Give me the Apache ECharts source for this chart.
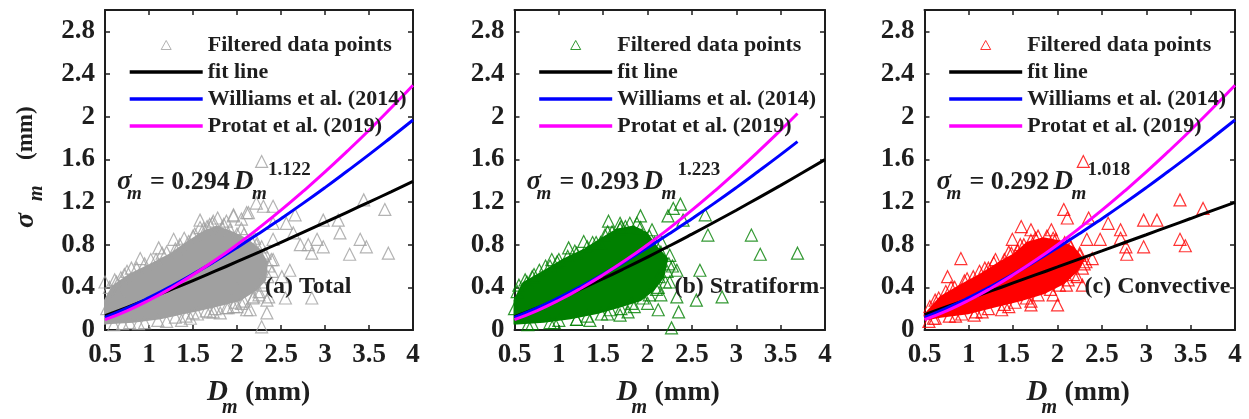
<!DOCTYPE html>
<html>
<head>
<meta charset="utf-8">
<script src="https://cdn.jsdelivr.net/npm/echarts@6/dist/echarts.min.js"></script>
<style>
  html, body { margin: 0; padding: 0; background: #ffffff; }
  #chart { width: 1249px; height: 419px; }
</style>
</head>
<body>
<div id="chart"></div>
<script>
// ---- Dm sample positions (mm) for the relation curves ----
const dmFull  = [0.5, 0.75, 1, 1.25, 1.5, 1.75, 2, 2.25, 2.5, 2.75, 3, 3.25, 3.5, 3.75, 4];
const dmStrat = [0.5, 0.75, 1, 1.25, 1.5, 1.75, 2, 2.25, 2.5, 2.75, 3, 3.25, 3.5, 3.69];

// ---- fitted sigma_m (mm) for each rain type ----
const fitTotal = [0.135, 0.213, 0.294, 0.378, 0.463, 0.551, 0.640, 0.730, 0.822, 0.915, 1.008, 1.103, 1.199, 1.295, 1.393];
const fitStrat = [0.126, 0.206, 0.293, 0.385, 0.481, 0.581, 0.684, 0.790, 0.899, 1.010, 1.123, 1.239, 1.356, 1.476, 1.597];
const fitConv  = [0.144, 0.218, 0.292, 0.366, 0.441, 0.516, 0.591, 0.667, 0.742, 0.818, 0.893, 0.969, 1.045, 1.122, 1.197];

// ---- published relations ----
const williamsFull  = [0.119, 0.205, 0.303, 0.410, 0.524, 0.645, 0.772, 0.905, 1.044, 1.187, 1.335, 1.488, 1.644, 1.805, 1.969];
const protatFull    = [0.097, 0.180, 0.279, 0.392, 0.517, 0.653, 0.800, 0.957, 1.123, 1.299, 1.482, 1.674, 1.873, 2.081, 2.295];
const williamsStrat = [0.119, 0.205, 0.303, 0.410, 0.524, 0.645, 0.772, 0.905, 1.044, 1.187, 1.335, 1.488, 1.644, 1.766];
const protatStrat   = [0.097, 0.180, 0.279, 0.392, 0.517, 0.653, 0.800, 0.957, 1.123, 1.299, 1.482, 1.674, 1.873, 2.030];

// ---- dense cores of the filtered data clouds [Dm, sigma_m] ----
const coreTotal = [[0.5,0.28],[0.59,0.41],[0.78,0.52],[1.01,0.61],[1.24,0.71],[1.43,0.82],[1.62,0.92],[1.77,0.97],[1.96,0.91],[2.11,0.85],[2.26,0.75],[2.34,0.63],[2.32,0.47],[2.22,0.38],[2.03,0.28],[1.81,0.235],[1.58,0.19],[1.39,0.157],[1.13,0.11],[0.82,0.078],[0.52,0.063],[0.5,0.06]];
const coreStrat = [[0.5,0.28],[0.6,0.44],[0.83,0.55],[1.05,0.66],[1.28,0.75],[1.47,0.85],[1.65,0.94],[1.84,0.97],[1.99,0.91],[2.1,0.78],[2.22,0.67],[2.18,0.5],[2.07,0.38],[1.92,0.28],[1.69,0.22],[1.43,0.16],[1.13,0.11],[0.83,0.078],[0.53,0.06],[0.5,0.06]];
const coreConv  = [[0.5,0.14],[0.68,0.31],[0.91,0.42],[1.13,0.52],[1.36,0.64],[1.51,0.71],[1.66,0.82],[1.84,0.86],[2.03,0.83],[2.18,0.77],[2.29,0.66],[2.21,0.55],[2.07,0.44],[1.84,0.345],[1.59,0.28],[1.29,0.22],[0.99,0.157],[0.68,0.125],[0.51,0.1]];

// ---- individual filtered points [Dm, sigma_m]: outliers and cloud rim ----
const ptsTotal = [[2.28,1.58],[2.28,0.03],[3.44,1.22],[3.68,1.13],[3.72,0.72],[3.40,0.85],[3.47,0.78],[3.28,0.71],[3.17,0.91],[3.15,1.03],[2.98,1.03],[2.98,0.78],[2.85,0.72],[2.81,0.80],[2.91,0.85],[2.72,0.80],[2.64,0.91],[2.66,1.08],[2.56,1.00],[2.60,0.56],[2.55,0.30],[2.85,0.30],[2.41,0.66],[2.34,0.28],[2.34,0.16],[2.19,0.31],[2.11,0.19],[2.00,0.22],[2.41,1.16],[2.22,1.19],[2.13,1.10],[1.96,1.07],[1.58,1.03],[1.73,1.02],[1.28,0.85],[1.11,0.77],[0.90,0.67],[1.45,0.83],[0.63,0.45],[1.37,0.09],[1.69,0.17],[1.81,0.16],[2.00,0.38],[2.41,0.85],[2.51,0.50],[0.61,0.47],[1.69,0.99],[1.96,1.08],[2.11,1.10],[2.30,1.16],[2.41,1.00],[2.39,0.66],[2.40,0.55],[2.36,0.31],[2.15,0.19],[1.96,0.22],[1.73,0.17],[1.47,0.11],[1.20,0.08],[0.50,0.45],[0.65,0.37],[0.52,0.20],[0.72,0.52],[0.80,0.58],[1.02,0.66],[1.15,0.72],[1.35,0.80],[1.52,0.90],[1.62,0.95],[1.85,0.99],[2.05,0.95],[2.20,0.86],[2.28,0.78],[2.32,0.72],[1.78,1.05],[1.88,1.02],[2.05,1.04],[0.70,0.06],[0.95,0.07],[1.55,0.15],[1.90,0.21],[2.08,0.27],[2.25,0.36],[2.28,0.45],
  [0.55,0.40],[0.68,0.49],[0.75,0.55],[0.86,0.58],[0.95,0.62],[1.08,0.66],[1.20,0.73],[1.30,0.76],[1.40,0.86],[1.50,0.88],[1.58,0.96],[1.66,0.97],[1.72,1.00],[1.83,0.96],[1.92,0.94],[2.00,0.90],[2.08,0.90],[2.16,0.84],[2.22,0.80],[2.30,0.70],[2.36,0.60],[2.35,0.50],[2.30,0.42],[2.25,0.33],[2.18,0.30],[2.05,0.25],[1.98,0.26],[1.88,0.21],[1.75,0.20],[1.65,0.18],[1.50,0.16],[1.42,0.13],[1.30,0.12],[1.10,0.09],[0.88,0.06],[0.60,0.05],[0.78,0.07]];
const ptsStrat = [[2.27,0.02],[3.17,0.89],[3.27,0.71],[3.69,0.72],[2.65,1.08],[2.68,0.89],[2.59,0.56],[2.55,0.28],[2.84,0.31],[2.33,0.31],[2.35,0.17],[2.12,0.19],[2.33,0.56],[2.29,1.14],[2.37,1.18],[2.40,1.03],[2.23,1.07],[1.92,1.07],[1.56,1.02],[1.69,1.00],[1.69,0.95],[1.28,0.83],[1.47,0.82],[1.11,0.77],[0.92,0.66],[0.64,0.45],[0.50,0.20],[1.35,0.09],[1.69,0.14],[1.78,0.17],[2.10,0.38],[2.13,0.50],[0.55,0.42],[0.72,0.52],[0.85,0.60],[1.00,0.66],[1.18,0.74],[1.38,0.82],[1.55,0.92],[1.75,0.97],[1.88,1.00],[2.05,0.94],[2.16,0.82],[2.25,0.70],[2.28,0.60],[2.25,0.45],[2.15,0.33],[2.00,0.25],[1.85,0.22],[1.55,0.15],[1.20,0.10],[0.95,0.07],[0.70,0.06],
  [0.53,0.36],[0.62,0.47],[0.70,0.50],[0.78,0.56],[0.90,0.60],[0.98,0.64],[1.10,0.69],[1.20,0.72],[1.32,0.78],[1.42,0.82],[1.52,0.89],[1.60,0.92],[1.70,0.97],[1.80,1.00],[1.92,0.96],[2.02,0.88],[2.08,0.82],[2.15,0.73],[2.24,0.62],[2.22,0.55],[2.20,0.45],[2.12,0.40],[2.02,0.33],[1.95,0.30],[1.82,0.25],[1.70,0.20],[1.58,0.19],[1.48,0.15],[1.32,0.13],[1.20,0.10],[1.00,0.09],[0.90,0.07],[0.65,0.05]];
const ptsConv  = [[2.29,1.58],[3.38,1.22],[3.64,1.14],[3.38,0.85],[3.44,0.79],[2.97,1.03],[3.12,1.03],[2.97,0.78],[2.71,0.94],[2.77,0.78],[2.78,0.71],[2.71,0.86],[2.57,1.00],[2.48,0.85],[2.33,0.85],[2.39,0.67],[2.35,1.05],[2.07,1.13],[2.11,1.05],[1.93,0.94],[1.70,0.94],[1.59,0.97],[1.49,0.85],[0.91,0.67],[0.76,0.50],[0.68,0.25],[0.60,0.11],[1.06,0.14],[1.37,0.19],[1.70,0.235],[2.00,0.235],[2.28,0.42],[1.90,0.52],[0.62,0.28],[0.80,0.40],[0.98,0.48],[1.18,0.58],[1.30,0.66],[1.45,0.73],[1.58,0.80],[1.75,0.86],[1.95,0.86],[2.12,0.82],[2.25,0.72],[2.30,0.62],[2.22,0.50],[2.10,0.42],[1.95,0.33],[1.70,0.27],[1.45,0.22],[1.15,0.17],[0.85,0.13],[0.55,0.08],
  [0.56,0.22],[0.66,0.30],[0.74,0.36],[0.84,0.40],[0.95,0.46],[1.05,0.50],[1.12,0.55],[1.22,0.58],[1.28,0.63],[1.40,0.66],[1.48,0.72],[1.55,0.74],[1.62,0.80],[1.70,0.84],[1.78,0.88],[1.88,0.88],[1.98,0.85],[2.08,0.82],[2.15,0.78],[2.25,0.70],[2.32,0.64],[2.28,0.58],[2.18,0.52],[2.12,0.47],[2.02,0.42],[1.92,0.38],[1.78,0.33],[1.65,0.30],[1.52,0.26],[1.40,0.24],[1.22,0.20],[1.08,0.17],[0.92,0.15],[0.78,0.13],[0.62,0.11]];

// ---- texts ----
const legendNames = ['Filtered data points', 'fit line', 'Williams et al. (2014)', 'Protat et al. (2019)'];
const panelTags = ['(a) Total', '(b) Stratiform', '(c) Convective'];
const fitCoefs = ['0.294', '0.293', '0.292'];
const fitExpos = ['1.122', '1.223', '1.018'];

const FONT = '"Liberation Serif", "Times New Roman", serif';
const INK = '#1e1e1e';

const panels = [
  { left: 105,   width: 308,   color: '#a0a0a0', core: coreTotal, pts: ptsTotal, fit: fitTotal, dmRef: dmFull,  will: williamsFull,  prot: protatFull },
  { left: 514.5, width: 310.5, color: '#008000', core: coreStrat, pts: ptsStrat, fit: fitStrat, dmRef: dmStrat, will: williamsStrat, prot: protatStrat },
  { left: 924.5, width: 310.5, color: '#ff0000', core: coreConv,  pts: ptsConv,  fit: fitConv,  dmRef: dmFull,  will: williamsFull,  prot: protatFull }
];

const zip = (xs, ys) => xs.map((x, i) => [x, ys[i]]);
const tagName = (i, n) => i + '|' + n;

const grid = [], xAxis = [], yAxis = [], series = [], legend = [], graphic = [];

const boxLine = { show: true, onZero: false, lineStyle: { color: INK, width: 2 } };
const innerTick = { show: true, inside: true, length: 5, lineStyle: { color: INK, width: 1.5 } };
const tickFont = { fontFamily: FONT, fontWeight: 'bold', fontSize: 27, color: INK };
const hollowTriangle = 'path://M5,0L10,9L0,9Z';

panels.forEach((p, i) => {
  grid.push({ left: p.left, top: 10, width: p.width, height: 320 });

  const xBase = { gridIndex: i, type: 'value', min: 0.5, max: 4, interval: 0.5,
                  axisLine: boxLine, axisTick: innerTick, splitLine: { show: false } };
  xAxis.push(Object.assign({}, xBase, { position: 'bottom',
    axisLabel: Object.assign({ margin: 12 }, tickFont) }));
  xAxis.push(Object.assign({}, xBase, { position: 'top', axisLabel: { show: false } }));

  const yBase = { gridIndex: i, type: 'value', min: 0, max: 3, interval: 0.4,
                  axisLine: boxLine, axisTick: innerTick, splitLine: { show: false } };
  yAxis.push(Object.assign({}, yBase, { position: 'left',
    axisLabel: Object.assign({ margin: 10, showMaxLabel: false }, tickFont) }));
  yAxis.push(Object.assign({}, yBase, { position: 'right', axisLabel: { show: false } }));

  const xi = 2 * i, yi = 2 * i;

  // solid core of overlapping markers
  series.push({
    type: 'custom', xAxisIndex: xi, yAxisIndex: yi, silent: true, z: 1,
    data: [p.core[0]],
    renderItem: (params, api) => ({
      type: 'polygon',
      shape: { points: p.core.map(pt => api.coord(pt)) },
      style: { fill: p.color, stroke: p.color, lineWidth: 2 }
    })
  });

  // individual hollow triangles
  series.push({
    name: tagName(i, legendNames[0]), type: 'scatter', xAxisIndex: xi, yAxisIndex: yi, z: 2,
    symbol: 'triangle', symbolSize: 12,
    itemStyle: { color: 'rgba(255,255,255,0)', borderColor: p.color, borderWidth: 1.2 },
    data: p.pts
  });

  const lineSeries = (name, data, color) => ({
    name: tagName(i, name), type: 'line', xAxisIndex: xi, yAxisIndex: yi, z: 3,
    smooth: true, symbol: 'none', data,
    lineStyle: { color, width: 3 }, itemStyle: { color }
  });
  series.push(lineSeries(legendNames[1], zip(dmFull, p.fit), '#000000'));
  series.push(lineSeries(legendNames[2], zip(p.dmRef, p.will), '#0000ff'));
  series.push(lineSeries(legendNames[3], zip(p.dmRef, p.prot), '#ff00ff'));

  const noMarker = { color: 'rgba(0,0,0,0)', borderColor: 'rgba(0,0,0,0)', opacity: 0 };
  legend.push({
    orient: 'vertical', left: p.left + 23, top: 34, padding: 0,
    itemWidth: 73, itemHeight: 9, itemGap: 5, selectedMode: false, symbolKeepAspect: true,
    lineStyle: { width: 3.4 },
    data: legendNames.map((n, k) => k === 0
      ? { name: tagName(i, n), icon: hollowTriangle,
          itemStyle: { color: 'rgba(255,255,255,0)', borderColor: p.color, borderWidth: 1 } }
      : { name: tagName(i, n), itemStyle: noMarker }),
    formatter: n => n.split('|')[1],
    textStyle: { fontFamily: FONT, fontWeight: 'bold', fontSize: 22, color: INK }
  });

  // fit equation
  const L = p.left;
  const txt = (x, y, text, size, italic) => ({
    type: 'text', x, y, silent: true, z: 10,
    style: { text, fill: INK, verticalAlign: 'middle',
             font: (italic ? 'italic ' : '') + 'bold ' + size + 'px ' + FONT }
  });
  graphic.push(txt(L + 12, 182, 'σ', 27, true));
  graphic.push(txt(L + 22, 194, 'm', 19, true));
  graphic.push(txt(L + 45, 182, '= ' + fitCoefs[i], 26, false));
  graphic.push(txt(L + 129, 182, 'D', 27, true));
  graphic.push(txt(L + 147, 194, 'm', 19, true));
  graphic.push(txt(L + 163, 170, fitExpos[i], 19, false));

  // panel tag
  graphic.push(txt(L + 160, 287, panelTags[i], 24, false));

  // x-axis title
  graphic.push(txt(L + 102, 393, 'D', 29, true));
  graphic.push(txt(L + 117, 408, 'm', 20, true));
  graphic.push(txt(L + 140, 393, '(mm)', 28, false));
});

// y-axis title, reading upward
graphic.push({
  type: 'group', x: 26, y: 228, rotation: Math.PI / 2, silent: true,
  children: [
    { type: 'text', x: 0, y: 0, style: { text: 'σ', fill: INK, verticalAlign: 'middle', font: 'italic bold 28px ' + FONT } },
    { type: 'text', x: 27, y: 11, style: { text: 'm', fill: INK, verticalAlign: 'middle', font: 'italic bold 20px ' + FONT } },
    { type: 'text', x: 68, y: 0, style: { text: '(mm)', fill: INK, verticalAlign: 'middle', font: 'bold 23px ' + FONT } }
  ]
});

const chart = echarts.init(document.getElementById('chart'));
chart.setOption({
  backgroundColor: '#ffffff',
  animation: false,
  grid, xAxis, yAxis, series, legend, graphic
});
</script>
</body>
</html>
